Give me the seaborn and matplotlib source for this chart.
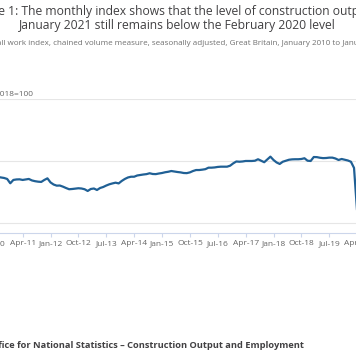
import numpy as np
import pandas as pd
import seaborn as sns
import matplotlib.pyplot as plt

# Monthly construction output, all work index (2018=100), Jan 2010 - Jan 2021
months = pd.date_range('2010-01-01', '2021-01-01', freq='MS')
index_values = [
    80.5, 80.0, 82.5, 84.0, 85.5, 86.0, 86.5, 87.1, 86.7, 86.3, 85.5, 82.0,   # 2010
    84.7, 85.1, 85.2, 84.7, 85.1, 85.5, 84.3, 83.7, 83.3, 83.1, 84.7, 86.0,   # 2011
    82.7, 81.0, 80.1, 80.2, 79.3, 78.2, 77.2, 77.4, 77.7, 78.0, 77.8, 77.2,   # 2012
    75.8, 77.4, 77.8, 76.6, 78.2, 79.0, 80.2, 81.2, 81.9, 82.5, 81.9, 83.9,   # 2013
    85.5, 86.7, 87.3, 87.3, 88.3, 88.7, 89.1, 89.4, 90.1, 89.5, 89.4, 89.9,   # 2014
    90.3, 90.9, 91.3, 91.9, 91.5, 91.1, 90.8, 90.3, 90.2, 90.8, 91.9, 92.7,   # 2015
    92.7, 93.0, 93.4, 94.6, 94.6, 94.8, 95.2, 95.4, 95.4, 95.4, 96.2, 98.1,   # 2016
    99.6, 99.4, 99.6, 100.0, 100.0, 100.0, 100.2, 101.4, 100.2, 99.0, 101.2, 103.5,  # 2017
    100.8, 98.8, 97.6, 99.4, 100.2, 101.0, 101.3, 101.4, 101.4, 101.6, 102.2, 100.2,  # 2018
    100.0, 103.2, 103.1, 102.6, 102.3, 102.4, 102.7, 102.7, 102.0, 100.8, 101.6, 101.0,  # 2019
    100.4, 99.4, 94.4, 59.0, 67.6, 79.4, 88.0, 90.5, 92.9, 94.6, 95.2, 97.1,  # 2020
    95.3,                                                                       # 2021
]
tick_months = list(range(6, len(months), 9))
tick_labels = [months[i].strftime('%b-%y') for i in tick_months]
y_ticks = [50, 100, 150]

title_1 = 'Figure 1: The monthly index shows that the level of construction output in'
title_2 = 'January 2021 still remains below the February 2020 level'
subtitle = ('Monthly all work index, chained volume measure, seasonally adjusted, '
            'Great Britain, January 2010 to January 2021')
y_label = 'Index, 2018=100'
source = 'Source: Office for National Statistics \u2013 Construction Output and Employment'

df = pd.DataFrame({'month': np.arange(len(months)), 'index': index_values})

W, H = 356, 364
sns.set_theme(style='white')
plt.rcParams['font.family'] = ['Open Sans', 'DejaVu Sans']

fig = plt.figure(figsize=(W / 100, H / 100), dpi=100)


def box(x0, y0, x1, y1):
    # pixel box (top-left origin) -> figure fraction rect
    return [x0 / W, 1 - y1 / H, (x1 - x0) / W, (y1 - y0) / H]


ax = fig.add_axes(box(-23.8, 99, 385.0, 233))
sns.lineplot(data=df, x='month', y='index', color='#206095', linewidth=1.6, ax=ax)
ax.set_xlim(0, len(months) - 1)
ax.set_ylim(41.9, 150)
ax.set_yticks(y_ticks)
ax.set_xticks(tick_months)
ax.set_xticklabels(tick_labels)
ax.set_xlabel('')
ax.set_ylabel('')
ax.yaxis.grid(True, color='#e6e6e6', linewidth=0.8)
ax.set_axisbelow(True)
for s in ['top', 'right', 'left']:
    ax.spines[s].set_visible(False)
ax.spines['bottom'].set_color('#ccd6eb')
ax.spines['bottom'].set_linewidth(0.8)
ax.tick_params(axis='x', bottom=True, length=3, width=0.8, color='#ccd6eb',
               labelcolor='#666666', labelsize=6.0, pad=2)
ax.tick_params(axis='y', left=False, labelcolor='#666666', labelsize=6.0)

fig.text(177.5 / W, 1 - 11.7 / H, title_1, ha='center', va='center',
         fontsize=8.7, color='#414042')
fig.text(177.5 / W, 1 - 26 / H, title_2, ha='center', va='center',
         fontsize=8.7, color='#414042')
fig.text(178 / W, 1 - 43.3 / H, subtitle, ha='center', va='center',
         fontsize=5.8, color='#707070')
fig.text(33.3 / W, 1 - 94.3 / H, y_label, ha='right', va='center',
         fontsize=6.0, color='#666666')
fig.text(304 / W, 1 - 345.7 / H, source, ha='right', va='center',
         fontsize=6.7, color='#414042', fontweight='bold')

fig.savefig('out.png', dpi=100)
